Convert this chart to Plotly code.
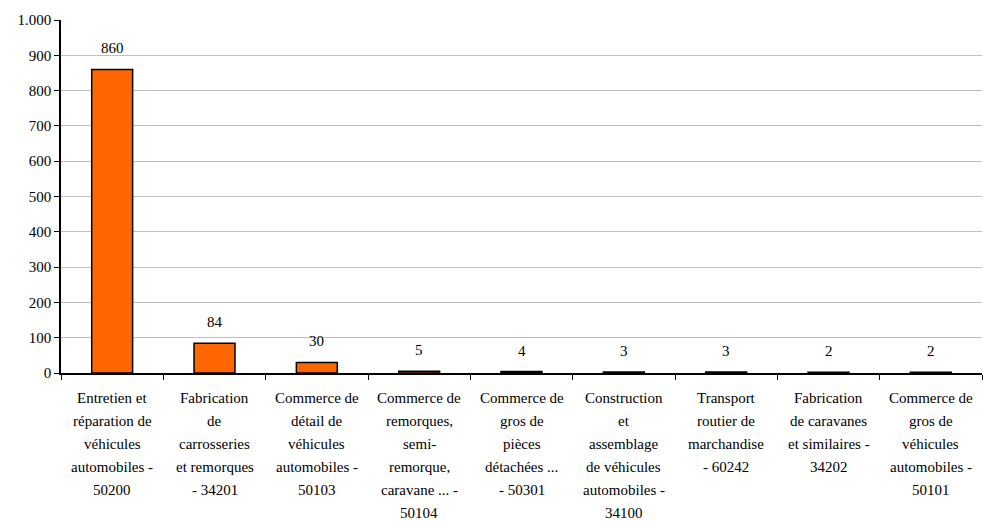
import plotly.graph_objects as go

categorias = [
    "Entretien et<br>réparation de<br>véhicules<br>automobiles -<br>50200",
    "Fabrication<br>de<br>carrosseries<br>et remorques<br>- 34201",
    "Commerce de<br>détail de<br>véhicules<br>automobiles -<br>50103",
    "Commerce de<br>remorques,<br>semi-<br>remorque,<br>caravane ... -<br>50104",
    "Commerce de<br>gros de<br>pièces<br>détachées ...<br>- 50301",
    "Construction<br>et<br>assemblage<br>de véhicules<br>automobiles -<br>34100",
    "Transport<br>routier de<br>marchandise<br>- 60242",
    "Fabrication<br>de caravanes<br>et similaires -<br>34202",
    "Commerce de<br>gros de<br>véhicules<br>automobiles -<br>50101",
]
valores = [860, 84, 30, 5, 4, 3, 3, 2, 2]

FONTE = dict(family="Liberation Serif, DejaVu Serif, serif", size=15, color="black")
LARANJA = "#FF6600"

fig = go.Figure()
fig.add_trace(
    go.Bar(
        x=list(range(len(categorias))),
        y=valores,
        marker=dict(color=LARANJA, line=dict(color="black", width=1.5)),
        width=0.4,
        hoverinfo="skip",
    )
)

# rótulos de valor e de categoria (várias linhas, espaçamento maior que o padrão)
anotacoes = []
for i, (cat, v) in enumerate(zip(categorias, valores)):
    anotacoes.append(
        dict(x=i, y=v, xref="x", yref="y", text=str(v), showarrow=False,
             yanchor="bottom", yshift=11, font=FONTE)
    )
    for j, linha in enumerate(cat.split("<br>")):
        anotacoes.append(
            dict(x=i, y=0, xref="x", yref="paper", text=linha, showarrow=False,
                 yanchor="middle", yshift=-(25 + 23 * j), font=FONTE)
        )

fig.update_layout(
    width=983,
    height=521,
    margin=dict(l=61, r=1, t=20, b=148),
    plot_bgcolor="white",
    paper_bgcolor="white",
    showlegend=False,
    separators=",.",
    font=FONTE,
    annotations=anotacoes,
    xaxis=dict(
        range=[-0.5, len(categorias) - 0.5],
        tickmode="array",
        tickvals=[i - 0.5 for i in range(len(categorias) + 1)],
        showticklabels=False,
        ticks="outside",
        ticklen=5,
        tickcolor="black",
        showline=True,
        linecolor="black",
        linewidth=1.5,
        showgrid=False,
        zeroline=False,
    ),
    yaxis=dict(
        range=[0, 1000],
        dtick=100,
        tickformat=",d",
        ticks="outside",
        ticklen=5,
        tickcolor="black",
        showline=True,
        linecolor="black",
        linewidth=1.5,
        gridcolor="#c0c0c0",
        gridwidth=1,
        zeroline=False,
        tickfont=FONTE,
    ),
)

fig.write_html(
    "out.html",
    config={"displayModeBar": False},
    post_script="document.body.style.margin='0';",
)
